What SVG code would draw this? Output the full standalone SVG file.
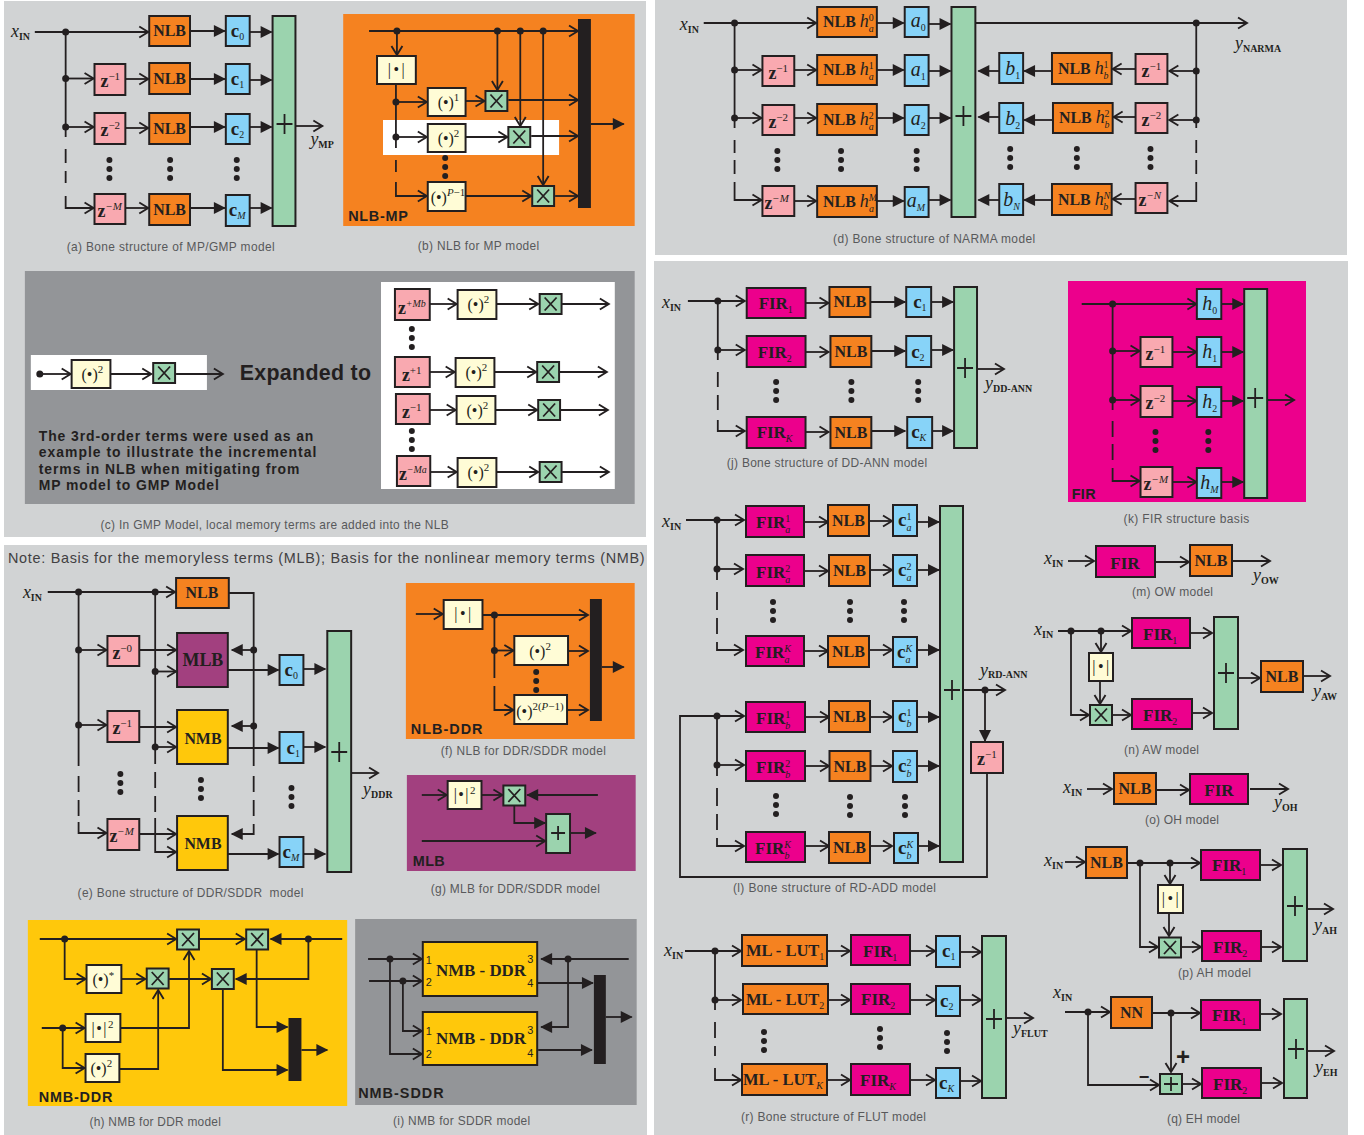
<svg xmlns="http://www.w3.org/2000/svg" width="1364" height="1135" viewBox="0 0 1364 1135">
<style>
text{font-family:"Liberation Serif",serif;fill:#231f20}
.bx{stroke:#231f20;stroke-width:2}
.or{fill:#f58220}.pk{fill:#f9a9b0}.cy{fill:#87d3f8}.gr{fill:#9bd3ae}.cr{fill:#fffcd6}.mg{fill:#ec008c}.pu{fill:#a2407f}.ye{fill:#ffc80b}
.k{fill:#231f20}
.l{fill:none;stroke:#231f20;stroke-width:1.8}
.o{marker-end:url(#o)}.f{marker-end:url(#f)}
.j circle{fill:#231f20;stroke:none;r:3.5px}
.v{font-style:italic;font-size:18px}
.s{font-style:normal;font-weight:bold;font-size:10px}
.n{font-weight:bold;font-size:16px;text-anchor:middle}
.m{font-weight:bold;font-size:16px}
.z{font-weight:bold;font-size:18px}
.c{font-weight:bold;font-size:19px}
.a{font-style:italic;font-size:20px}
.e{font-size:16px}
.ab{font-size:16px;letter-spacing:2.5px;text-anchor:middle}
.ag{font-size:16px;letter-spacing:1.5px}
.h{font-style:italic;font-size:18px;font-weight:normal}
.u{font-size:11px;font-weight:normal;font-style:normal;letter-spacing:0}
.ui{font-size:11px;font-weight:normal;font-style:italic}
.uj{font-size:10px;font-weight:normal;font-style:italic}
.d{font-size:10px;font-weight:normal;font-style:normal}
.di{font-size:10px;font-weight:normal;font-style:italic}
.i{font-style:italic}
.F{font-weight:bold;font-size:17px}
.L{font-weight:bold;font-size:16.5px}
.N{font-size:17px}
.W{font-size:18px}
.cap{font-family:"Liberation Sans",sans-serif;font-size:12px;fill:#58595b}
.lab{font-family:"Liberation Sans",sans-serif;font-size:14.5px;font-weight:bold}
.par{font-family:"Liberation Sans",sans-serif;font-size:14px;font-weight:bold}
.num{font-family:"Liberation Sans",sans-serif;font-size:11px}
.exp{font-family:"Liberation Sans",sans-serif;font-size:21.5px;font-weight:bold}
.nt{font-family:"Liberation Sans",sans-serif;font-size:14.5px;fill:#414042}
.pm{font-family:"Liberation Sans",sans-serif;font-weight:bold;text-anchor:middle}
.pp{font-size:24px}.mm{font-size:18px}
</style>
<defs>
<marker id="o" markerUnits="userSpaceOnUse" markerWidth="16" markerHeight="16" viewBox="-13 -8 16 16" orient="auto"><path d="M-9-5.5L0 0L-9 5.5" fill="none" stroke="#231f20" stroke-width="1.9"/></marker>
<marker id="f" markerUnits="userSpaceOnUse" markerWidth="16" markerHeight="16" viewBox="-13 -8 16 16" orient="auto"><path d="M-11-6L1 0L-11 6Z" fill="#231f20"/></marker>
<g id="xm"><rect class="bx gr" width="22" height="20"/><path class="l" d="M5 3.5L17 16.5M17 3.5L5 16.5"/></g>
<path id="pl" class="l" d="M-8 0H8M0-10V10"/>
<path id="ps" class="l" d="M-7 0H7M0-7V7"/>
<g id="vd" class="k"><circle r="3"/><circle cy="9" r="3"/><circle cy="18" r="3"/></g>
</defs>

<g id="backgrounds">
<rect width="1364" height="1135" fill="#fff"/>
<rect x="4" y="1" width="642" height="536" fill="#d1d3d4"/>
<rect x="4" y="545" width="643" height="590" fill="#d1d3d4"/>
<rect x="655" y="0" width="692" height="255" fill="#d1d3d4"/>
<rect x="654" y="261" width="694" height="874" fill="#d1d3d4"/>
<g transform="scale(.9948 1)">
<rect x="345" y="14" width="293" height="212" class="or"/>
<rect x="385" y="120" width="177" height="35" fill="#fff"/>
<rect x="25" y="271" width="613" height="233" fill="#939598"/>
<rect x="31" y="355" width="177" height="35" fill="#fff"/>
<rect x="383" y="282" width="235" height="207" fill="#fff"/>
<rect x="408" y="583" width="230" height="156" class="or"/>
<rect x="409" y="775" width="230" height="96" class="pu"/>
<rect x="28" y="920" width="321" height="186" class="ye"/>
<rect x="357" y="919" width="283" height="186" fill="#939598"/>
</g>
<rect x="1068" y="281" width="238" height="221" class="mg"/>
</g>

<g id="connectors" class="l">
<g id="conn-left" transform="scale(.9948 1)">
<g class="o">
<path d="M35 32H149"/><path d="M66 32V137M66 149V163M66 171V183M66 196V208H94"/><path d="M66 78.5H94"/><path d="M66 127H94"/><path d="M126 79H149"/><path d="M126 128H149"/><path d="M126 208H149"/><path d="M297 126H324"/>
<path d="M371 31H581"/><path d="M399 31V55"/><path d="M500 31V90"/><path d="M523 31V126"/><path d="M546 31V185"/><path d="M398 84V148M398 160V172M398 182V196H429"/><path d="M398 102H429"/><path d="M398 137H429"/><path d="M468 101H487"/><path d="M511 100H581"/><path d="M468 137H510"/><path d="M534 136H581"/><path d="M468 196H534"/><path d="M558 196H581"/>
<path d="M40 374H71"/><path d="M111 374H152"/><path d="M177 374H224"/>
<path d="M432 304H459"/><path d="M499 304H541"/><path d="M565 304H612"/>
<path d="M432 372H457"/><path d="M497 372H539"/><path d="M562 372H610"/>
<path d="M432 410H458"/><path d="M498 410H540"/><path d="M563 410H611"/>
<path d="M432 472H459"/><path d="M499 472H541"/><path d="M565 472H612"/>
<path d="M48 592H176"/><path d="M79 592V766M79 776V792M79 800V816M79 822V833H107"/><path d="M156 592V764M156 772V788M156 796V812M156 818V852H177"/><path d="M79 650H107"/><path d="M79 725H107"/><path d="M140 650H177"/><path d="M156 671.5H177"/><path d="M140 727H177"/><path d="M156 747H177"/><path d="M140 834H177"/><path d="M353 773H380"/>
<path d="M418 614H445"/><path d="M485 615H591"/><path d="M497 615V678M497 686V695M497 695V710H516"/><path d="M497 650.5H516"/><path d="M571 651H591"/><path d="M570 710H591"/>
<path d="M424 795H449"/><path d="M484 795H505"/><path d="M424 841H548"/>
<path d="M40 939H177"/><path d="M200 939H246"/><path d="M65 939V979H86"/><path d="M122 979H146"/><path d="M170 979H212"/><path d="M42 1028H85"/><path d="M63 1028V1068H85"/><path d="M121 1028H190V951"/><path d="M120 1069H159V990"/>
<path d="M370 959H424"/><path d="M392 959V1054H424"/><path d="M371 981H424"/><path d="M405 981V1031H424"/>
</g>
<g class="f">
<path d="M191 31H226"/><path d="M191 79H226"/><path d="M191 127H226"/><path d="M191 208H226"/><path d="M251 32H273"/><path d="M251 80H273"/><path d="M251 127H273"/><path d="M251 208H273"/>
<path d="M594 124H627"/>
<path d="M255 650H233"/><path d="M255 726H233"/><path d="M255 824V834H233"/><path d="M229 670H280"/><path d="M305 669H327"/><path d="M229 748H280"/><path d="M305 747H327"/><path d="M229 854H280"/><path d="M305 854H327"/>
<path d="M605 667H627"/>
<path d="M601 795H530"/><path d="M517 806V823H548"/><path d="M573 833H599"/>
<path d="M344 939H272"/><path d="M310 939V979H237"/><path d="M258 950V1027H289"/><path d="M224 989V1070H289"/><path d="M303 1050H329"/>
<path d="M632 959H544"/><path d="M571 959V1027H544"/><path d="M540 983H596"/><path d="M541 1050H595"/><path d="M609 1017H635"/>
</g>
<path d="M230 593H255V766M255 776V792M255 800V816"/>
<g class="j">
<circle cx="66" cy="32"/><circle cx="66" cy="78.5"/><circle cx="66" cy="127"/>
<circle cx="399" cy="31"/><circle cx="500" cy="31"/><circle cx="523" cy="31"/><circle cx="546" cy="31"/><circle cx="398" cy="102"/><circle cx="398" cy="137"/>
<circle cx="40" cy="374"/>
<circle cx="79" cy="592"/><circle cx="156" cy="592"/><circle cx="79" cy="650"/><circle cx="79" cy="725"/><circle cx="156" cy="671.5"/><circle cx="156" cy="747"/><circle cx="255" cy="650"/><circle cx="255" cy="726"/>
<circle cx="497" cy="615"/><circle cx="497" cy="650.5"/>
<circle cx="65" cy="939"/><circle cx="310" cy="939"/><circle cx="63" cy="1028"/>
<circle cx="392" cy="959"/><circle cx="405" cy="981"/><circle cx="571" cy="959"/>
</g>
</g>
<g id="conn-d" transform="matrix(.995 0 0 1 3.25 0)">
<g class="o">
<path d="M704 23H817"/><path d="M735 23V128M735 140V153M735 160V174M735 182V200H762"/><path d="M735 70H762"/><path d="M735 118H762"/><path d="M795 70H817"/><path d="M795 118H817"/><path d="M795 201H817"/><path d="M977 23H1250"/><path d="M1199 23V128M1199 140V153M1199 160V174M1199 182V201H1172"/><path d="M1199 71H1172"/><path d="M1199 120H1172"/><path d="M1138 69H1115"/><path d="M1138 117H1116"/><path d="M1138 199H1115"/>
</g>
<g class="f">
<path d="M878 23H905"/><path d="M878 70H905"/><path d="M878 118H905"/><path d="M878 201H905"/><path d="M930 24H952"/><path d="M930 71H952"/><path d="M930 118H952"/><path d="M930 200H952"/><path d="M1054 71H1026"/><path d="M1055 120H1026"/><path d="M1054 200H1026"/><path d="M1001 71H980"/><path d="M1001 117H980"/><path d="M1001 200H980"/>
</g>
<g class="j"><circle cx="735" cy="23"/><circle cx="735" cy="70"/><circle cx="735" cy="118"/><circle cx="1199" cy="23"/><circle cx="1199" cy="71"/><circle cx="1199" cy="120"/></g>
</g>
<g id="conn-jk" transform="matrix(.997 0 0 1 1.95 0)">
<g class="o">
<path d="M688 301H745"/><path d="M718 301V360M718 372V387M718 395V410M718 420V431H745"/><path d="M718 350H745"/><path d="M806 303H829"/><path d="M806 352H829"/><path d="M806 432H829"/><path d="M978 369H1005"/>
<path d="M1083 304H1198"/><path d="M1114 304V410M1114 421V437M1114 444V460M1114 468V481H1141"/><path d="M1114 351H1141"/><path d="M1114 400H1141"/><path d="M1174 352H1198"/><path d="M1174 401H1198"/><path d="M1174 482H1198"/><path d="M1269 400H1296"/>
</g>
<g class="f">
<path d="M871 302H906"/><path d="M871 351H906"/><path d="M871 431H906"/><path d="M932 302H954"/><path d="M932 350H954"/><path d="M932 431H954"/>
<path d="M1223 304H1245"/><path d="M1223 352H1245"/><path d="M1223 401H1245"/><path d="M1223 482H1245"/>
</g>
<g class="j"><circle cx="718" cy="301"/><circle cx="718" cy="350"/><circle cx="1114" cy="304"/><circle cx="1114" cy="351"/><circle cx="1114" cy="400"/></g>
</g>
<g id="conn-rest">
<g class="o">
<path d="M686 520H744"/><path d="M717 520V580M717 592V610M717 618V634M717 642V650H743"/><path d="M717 569H743"/><path d="M804 522H828"/><path d="M804 571H828"/><path d="M804 651H828"/><path d="M869 521H892"/><path d="M869 570H892"/><path d="M869 650H892"/>
<path d="M987 773V877H680V716H744"/><path d="M717 716V776M717 788V806M717 814V830M717 838V846H744"/><path d="M717 765H744"/><path d="M805 717H829"/><path d="M805 766H829"/><path d="M805 846H829"/><path d="M870 717H892"/><path d="M870 766H892"/><path d="M870 846H892"/><path d="M963 690H1005"/>
<path d="M1068 561H1094"/><path d="M1156 562H1189"/><path d="M1232 561H1270"/>
<path d="M1058 631H1131"/><path d="M1071 631V715H1089"/><path d="M1101 631V652"/><path d="M1100 681V704"/><path d="M1112 715H1131"/><path d="M1190 633H1212"/><path d="M1192 713H1212"/><path d="M1238 678H1260"/><path d="M1303 676H1330"/>
<path d="M1087 789H1112"/><path d="M1156 790H1189"/><path d="M1250 789H1288"/>
<path d="M1065 862H1085"/><path d="M1127 863H1200"/><path d="M1140 863V947H1158"/><path d="M1170 863V884"/><path d="M1169 913V936"/><path d="M1181 947H1201"/><path d="M1260 865H1281"/><path d="M1261 947H1281"/><path d="M1307 909H1333"/>
<path d="M1065 1012H1110"/><path d="M1152 1013H1200"/><path d="M1171 1013V1072"/><path d="M1088 1012V1085H1159"/><path d="M1182 1084H1201"/><path d="M1260 1014H1281"/><path d="M1261 1083H1282"/><path d="M1307 1051H1334"/>
<path d="M685 951H741"/><path d="M715 951V1010M715 1022V1038M715 1046V1056M715 1068V1080H741"/><path d="M715 1000H741"/>
<path d="M827 951H850"/><path d="M827 1000H850"/><path d="M827 1080H850"/><path d="M910 951H935"/><path d="M910 1000H935"/><path d="M910 1080H935"/><path d="M960 952H981"/><path d="M960 1000H981"/><path d="M960 1081H981"/><path d="M1006 1018H1033"/>
</g>
<g class="f">
<path d="M917 522H939"/><path d="M917 570H939"/><path d="M917 650H939"/><path d="M918 717H939"/><path d="M918 766H939"/><path d="M918 846H939"/><path d="M985 690V741"/>
</g>
<g class="j">
<circle cx="717" cy="520"/><circle cx="717" cy="569"/><circle cx="717" cy="716"/><circle cx="717" cy="765"/><circle cx="985" cy="690"/>
<circle cx="1071" cy="631"/><circle cx="1101" cy="631"/>
<circle cx="1140" cy="863"/><circle cx="1170" cy="863"/><circle cx="1088" cy="1012"/><circle cx="1171" cy="1013"/>
<circle cx="715" cy="951"/><circle cx="715" cy="1000"/>
</g>
</g>
</g>

<g id="left-nodes" transform="scale(.9948 1)">
<g id="left-ellipses">
<use href="#vd" x="110" y="160"/><use href="#vd" x="171" y="160"/><use href="#vd" x="238" y="160"/>
<use href="#vd" x="447.5" y="158"/>
<use href="#vd" x="414" y="329"/><use href="#vd" x="414" y="431"/>
<use href="#vd" x="121" y="774"/><use href="#vd" x="202" y="780"/><use href="#vd" x="293" y="788"/>
<use href="#vd" x="539" y="672"/>
</g>
<!-- panel a -->
<g id="a-in"><text x="11" y="37" class="v">x<tspan class="s" dy="3">IN</tspan></text></g>
<g id="a-nlb0"><rect class="bx or" x="150" y="16" width="41" height="30"/><text x="170.5" y="36.5" class="n">NLB</text></g>
<g id="a-nlb1"><rect class="bx or" x="150" y="63" width="41" height="31"/><text x="170.5" y="84" class="n">NLB</text></g>
<g id="a-nlb2"><rect class="bx or" x="150" y="113" width="41" height="31"/><text x="170.5" y="134" class="n">NLB</text></g>
<g id="a-nlbm"><rect class="bx or" x="150" y="194" width="41" height="31"/><text x="170.5" y="215" class="n">NLB</text></g>
<g id="a-z1"><rect class="bx pk" x="95" y="64" width="31" height="31"/><text x="101" y="87" class="z">z<tspan class="u" dy="-7">−1</tspan></text></g>
<g id="a-z2"><rect class="bx pk" x="95" y="113" width="31" height="31"/><text x="101" y="136" class="z">z<tspan class="u" dy="-7">−2</tspan></text></g>
<g id="a-zm"><rect class="bx pk" x="95" y="194" width="31" height="30"/><text x="98" y="217" class="z">z<tspan class="ui" dy="-7">−M</tspan></text></g>
<g id="a-c0"><rect class="bx cy" x="227" y="16" width="24" height="30"/><text x="232" y="37" class="c">c<tspan class="d" dy="3">0</tspan></text></g>
<g id="a-c1"><rect class="bx cy" x="227" y="64" width="24" height="30"/><text x="232" y="85" class="c">c<tspan class="d" dy="3">1</tspan></text></g>
<g id="a-c2"><rect class="bx cy" x="227" y="114" width="24" height="30"/><text x="232" y="135" class="c">c<tspan class="d" dy="3">2</tspan></text></g>
<g id="a-cm"><rect class="bx cy" x="227" y="195" width="24" height="31"/><text x="230" y="216" class="c">c<tspan class="di" dy="3">M</tspan></text></g>
<g id="a-sum"><rect class="bx gr" x="274" y="16" width="23" height="210"/><use href="#pl" x="286" y="124"/></g>
<g id="a-out"><text x="312" y="145" class="v">y<tspan class="s" dy="3">MP</tspan></text></g>
<g id="a-cap"><text x="67" y="251" class="cap" textLength="209">(a) Bone structure of MP/GMP model</text></g>

<!-- panel b -->
<g id="b-abs"><rect class="bx cr" x="379" y="56" width="39" height="28"/><text x="399.5" y="75" class="ab">|•|</text></g>
<g id="b-p1"><rect class="bx cr" x="430" y="88" width="38" height="28"/><text x="440" y="108" class="e">(•)<tspan class="u" dy="-7">1</tspan></text></g>
<g id="b-p2"><rect class="bx cr" x="430" y="124" width="38" height="28"/><text x="440" y="144" class="e">(•)<tspan class="u" dy="-7">2</tspan></text></g>
<g id="b-pp"><rect class="bx cr" x="430" y="182" width="38" height="29"/><text x="433" y="203" class="e">(•)<tspan class="ui" dy="-7">P</tspan><tspan class="u">−1</tspan></text></g>
<g id="b-x1"><use href="#xm" x="488" y="91"/></g>
<g id="b-x2"><use href="#xm" x="511" y="127"/></g>
<g id="b-x3"><use href="#xm" x="535" y="186"/></g>
<g id="b-bar"><rect class="k" x="581" y="19" width="13" height="189"/></g>
<g id="b-lab"><text x="350" y="221" class="lab" textLength="60">NLB-MP</text></g>
<g id="b-cap"><text x="420" y="250" class="cap" textLength="122">(b) NLB for MP model</text></g>

<!-- panel c -->
<g id="c-p"><rect class="bx cr" x="72" y="360" width="39" height="28"/><text x="82" y="380" class="e">(•)<tspan class="u" dy="-7">2</tspan></text></g>
<g id="c-x"><use href="#xm" x="154" y="363"/></g>
<g id="c-exp"><text x="241" y="380" class="exp" textLength="132">Expanded to</text></g>
<g id="c-note"><text x="39" y="441" class="par" textLength="276">The 3rd-order terms were used as an</text><text x="39" y="457" class="par" textLength="279">example to illustrate the incremental</text><text x="39" y="474" class="par" textLength="262">terms in NLB when mitigating from</text><text x="39" y="490" class="par" textLength="181">MP model to GMP Model</text></g>
<g id="c-z1"><rect class="bx pk" x="397" y="289" width="35" height="31"/><text x="400" y="314" class="z">z<tspan class="uj" dy="-7">+Mb</tspan></text></g>
<g id="c-p1"><rect class="bx cr" x="460" y="290" width="39" height="29"/><text x="470" y="310" class="e">(•)<tspan class="u" dy="-7">2</tspan></text></g>
<g id="c-x1"><use href="#xm" x="542.5" y="294"/></g>
<g id="c-z2"><rect class="bx pk" x="397" y="357" width="35" height="30"/><text x="404" y="381" class="z">z<tspan class="u" dy="-7">+1</tspan></text></g>
<g id="c-p2"><rect class="bx cr" x="458" y="358" width="39" height="29"/><text x="468" y="378" class="e">(•)<tspan class="u" dy="-7">2</tspan></text></g>
<g id="c-x2"><use href="#xm" x="540" y="362"/></g>
<g id="c-z3"><rect class="bx pk" x="398" y="394" width="34" height="30"/><text x="404" y="418" class="z">z<tspan class="u" dy="-7">−1</tspan></text></g>
<g id="c-p3"><rect class="bx cr" x="459" y="396" width="39" height="28"/><text x="469" y="416" class="e">(•)<tspan class="u" dy="-7">2</tspan></text></g>
<g id="c-x3"><use href="#xm" x="541" y="400"/></g>
<g id="c-z4"><rect class="bx pk" x="399" y="456" width="33.5" height="30"/><text x="401" y="480" class="z">z<tspan class="uj" dy="-7">−Ma</tspan></text></g>
<g id="c-p4"><rect class="bx cr" x="460" y="458" width="39" height="29"/><text x="470" y="478" class="e">(•)<tspan class="u" dy="-7">2</tspan></text></g>
<g id="c-x4"><use href="#xm" x="542.5" y="462"/></g>
<g id="c-cap"><text x="101" y="529" class="cap" textLength="350">(c) In GMP Model, local memory terms are added into the NLB</text></g>

<!-- panel e -->
<g id="e-note"><text x="8" y="563" class="nt" textLength="640">Note: Basis for the memoryless terms (MLB); Basis for the nonlinear memory terms (NMB)</text></g>
<g id="e-in"><text x="23" y="598" class="v">x<tspan class="s" dy="3">IN</tspan></text></g>
<g id="e-nlb"><rect class="bx or" x="177" y="578" width="53" height="30"/><text x="203" y="598.5" class="n">NLB</text></g>
<g id="e-mlb"><rect class="bx pu" x="178" y="633" width="51" height="54"/><text x="204" y="666" class="n W">MLB</text></g>
<g id="e-nmb1"><rect class="bx ye" x="178" y="710" width="51" height="54"/><text x="204" y="744" class="n">NMB</text></g>
<g id="e-nmb2"><rect class="bx ye" x="178" y="816" width="51" height="54"/><text x="204" y="849" class="n">NMB</text></g>
<g id="e-z0"><rect class="bx pk" x="108" y="636" width="32" height="30"/><text x="113" y="659" class="z">z<tspan class="u" dy="-7">−0</tspan></text></g>
<g id="e-z1"><rect class="bx pk" x="108" y="711" width="32" height="31"/><text x="113" y="734" class="z">z<tspan class="u" dy="-7">−1</tspan></text></g>
<g id="e-zm"><rect class="bx pk" x="108" y="819" width="32" height="31"/><text x="110" y="842" class="z">z<tspan class="ui" dy="-7">−M</tspan></text></g>
<g id="e-c0"><rect class="bx cy" x="281" y="655" width="24" height="30"/><text x="286" y="676" class="c">c<tspan class="d" dy="3">0</tspan></text></g>
<g id="e-c1"><rect class="bx cy" x="281" y="732" width="24" height="31"/><text x="288" y="754" class="c">c<tspan class="d" dy="3">1</tspan></text></g>
<g id="e-cm"><rect class="bx cy" x="281" y="837" width="24" height="30"/><text x="284" y="858" class="c">c<tspan class="di" dy="3">M</tspan></text></g>
<g id="e-sum"><rect class="bx gr" x="329" y="631" width="24" height="241"/><use href="#pl" x="341" y="752"/></g>
<g id="e-out"><text x="365" y="795" class="v">y<tspan class="s" dy="3">DDR</tspan></text></g>
<g id="e-cap"><text x="78" y="897" class="cap" textLength="227" xml:space="preserve">(e) Bone structure of DDR/SDDR  model</text></g>

<!-- panel f -->
<g id="f-abs"><rect class="bx cr" x="446" y="600" width="39" height="29"/><text x="466.5" y="619" class="ab">|•|</text></g>
<g id="f-p2"><rect class="bx cr" x="517" y="636" width="54" height="29"/><text x="532" y="657" class="e">(•)<tspan class="u" dy="-7">2</tspan></text></g>
<g id="f-pp"><rect class="bx cr" x="517" y="695" width="53" height="29"/><text x="519" y="717" class="e">(•)<tspan class="u" dy="-7">2(<tspan class="i">P</tspan>−1)</tspan></text></g>
<g id="f-bar"><rect class="k" x="593" y="599" width="12" height="122"/></g>
<g id="f-lab"><text x="413" y="734" class="lab" textLength="72">NLB-DDR</text></g>
<g id="f-cap"><text x="443" y="755" class="cap" textLength="166">(f) NLB for DDR/SDDR model</text></g>

<!-- panel g -->
<g id="g-abs"><rect class="bx cr" x="450" y="781" width="34" height="28"/><text x="456" y="800" class="ag">|•|<tspan class="u" dy="-6">2</tspan></text></g>
<g id="g-x"><use href="#xm" x="506" y="785.5"/></g>
<g id="g-sum"><rect class="bx gr" x="549" y="814" width="24" height="39"/><use href="#ps" x="561" y="833"/></g>
<g id="g-lab"><text x="415" y="866" class="lab" textLength="32">MLB</text></g>
<g id="g-cap"><text x="433" y="893" class="cap" textLength="170">(g) MLB for DDR/SDDR model</text></g>

<!-- panel h -->
<g id="h-x1"><use href="#xm" x="178" y="929.5"/></g>
<g id="h-x2"><use href="#xm" x="247.5" y="929.5"/></g>
<g id="h-x3"><use href="#xm" x="147.5" y="968.5"/></g>
<g id="h-x4"><use href="#xm" x="213" y="969"/></g>
<g id="h-conj"><rect class="bx cr" x="87" y="965" width="35" height="28"/><text x="93" y="985" class="e">(•)<tspan class="u" dy="-6">*</tspan></text></g>
<g id="h-abs"><rect class="bx cr" x="86" y="1014" width="35" height="28"/><text x="92" y="1034" class="ag">|•|<tspan class="u" dy="-6">2</tspan></text></g>
<g id="h-p2"><rect class="bx cr" x="86" y="1054" width="34" height="28"/><text x="91" y="1074" class="e">(•)<tspan class="u" dy="-7">2</tspan></text></g>
<g id="h-bar"><rect class="k" x="290" y="1018" width="13" height="63"/></g>
<g id="h-lab"><text x="39" y="1102" class="lab" textLength="74">NMB-DDR</text></g>
<g id="h-cap"><text x="90" y="1126" class="cap" textLength="132">(h) NMB for DDR model</text></g>

<!-- panel i -->
<g id="i-b1"><rect class="bx ye" x="425" y="942" width="115" height="54"/><text x="483.5" y="976" class="n N">NMB - DDR</text><text x="428" y="964" class="num">1</text><text x="428" y="986" class="num">2</text><text x="530" y="963" class="num">3</text><text x="530" y="987" class="num">4</text></g>
<g id="i-b2"><rect class="bx ye" x="425" y="1012" width="115" height="53"/><text x="483.5" y="1044" class="n N">NMB - DDR</text><text x="428" y="1035" class="num">1</text><text x="428" y="1058" class="num">2</text><text x="530" y="1034" class="num">3</text><text x="530" y="1057" class="num">4</text></g>
<g id="i-bar"><rect class="k" x="597" y="975" width="12" height="89"/></g>
<g id="i-lab"><text x="360" y="1098" class="lab" textLength="86">NMB-SDDR</text></g>
<g id="i-cap"><text x="395" y="1125" class="cap" textLength="138">(i) NMB for SDDR model</text></g>
</g>

<!-- panel d -->
<g id="d-nodes" transform="matrix(.995 0 0 1 3.25 0)">
<use href="#vd" x="778" y="151"/><use href="#vd" x="842" y="151"/><use href="#vd" x="918" y="151"/><use href="#vd" x="1012" y="149"/><use href="#vd" x="1079" y="149"/><use href="#vd" x="1153" y="149"/>
<g id="d-in"><text x="680" y="30" class="v">x<tspan class="s" dy="3">IN</tspan></text></g>
<g id="d-n0"><rect class="bx or" x="818" y="7" width="60" height="30"/><text x="824" y="27" class="m">NLB<tspan class="h" dx="4">h</tspan><tspan class="d" dy="-6">0</tspan><tspan class="di" dx="-5" dy="11">a</tspan></text></g>
<g id="d-n1"><rect class="bx or" x="818" y="55" width="60" height="30"/><text x="824" y="75" class="m">NLB<tspan class="h" dx="4">h</tspan><tspan class="d" dy="-6">1</tspan><tspan class="di" dx="-5" dy="11">a</tspan></text></g>
<g id="d-n2"><rect class="bx or" x="818" y="104" width="60" height="31"/><text x="824" y="125" class="m">NLB<tspan class="h" dx="4">h</tspan><tspan class="d" dy="-6">2</tspan><tspan class="di" dx="-5" dy="11">a</tspan></text></g>
<g id="d-nm"><rect class="bx or" x="818" y="186" width="60" height="31"/><text x="824" y="207" class="m">NLB<tspan class="h" dx="4">h</tspan><tspan class="di" dy="-6">M</tspan><tspan class="di" dx="-8" dy="11">a</tspan></text></g>
<g id="d-z1"><rect class="bx pk" x="763" y="56" width="32" height="30"/><text x="769" y="79" class="z">z<tspan class="u" dy="-7">−1</tspan></text></g>
<g id="d-z2"><rect class="bx pk" x="763" y="105" width="32" height="30"/><text x="769" y="128" class="z">z<tspan class="u" dy="-7">−2</tspan></text></g>
<g id="d-zm"><rect class="bx pk" x="763" y="186" width="32" height="30"/><text x="765" y="209" class="z">z<tspan class="ui" dy="-7">−M</tspan></text></g>
<g id="d-a0"><rect class="bx cy" x="906" y="7" width="24" height="30"/><text x="912" y="27" class="a">a<tspan class="d" dy="4">0</tspan></text></g>
<g id="d-a1"><rect class="bx cy" x="906" y="55" width="24" height="31"/><text x="912" y="76" class="a">a<tspan class="d" dy="4">1</tspan></text></g>
<g id="d-a2"><rect class="bx cy" x="906" y="105" width="24" height="30"/><text x="912" y="125" class="a">a<tspan class="d" dy="4">2</tspan></text></g>
<g id="d-am"><rect class="bx cy" x="906" y="187" width="24" height="30"/><text x="908" y="207" class="a">a<tspan class="di" dy="4">M</tspan></text></g>
<g id="d-sum"><rect class="bx gr" x="953" y="7" width="24" height="210"/><use href="#pl" x="965" y="116"/></g>
<g id="d-b1"><rect class="bx cy" x="1001" y="53" width="24" height="30"/><text x="1007" y="75" class="a">b<tspan class="d" dy="4">1</tspan></text></g>
<g id="d-b2"><rect class="bx cy" x="1001" y="103" width="24" height="30"/><text x="1007" y="125" class="a">b<tspan class="d" dy="4">2</tspan></text></g>
<g id="d-bn"><rect class="bx cy" x="1001" y="184" width="24" height="31"/><text x="1005" y="206" class="a">b<tspan class="di" dy="4">N</tspan></text></g>
<g id="d-m1"><rect class="bx or" x="1054" y="53" width="60" height="31"/><text x="1060" y="74" class="m">NLB<tspan class="h" dx="4">h</tspan><tspan class="d" dy="-6">1</tspan><tspan class="di" dx="-5" dy="11">b</tspan></text></g>
<g id="d-m2"><rect class="bx or" x="1055" y="103" width="60" height="30"/><text x="1061" y="123" class="m">NLB<tspan class="h" dx="4">h</tspan><tspan class="d" dy="-6">2</tspan><tspan class="di" dx="-5" dy="11">b</tspan></text></g>
<g id="d-mn"><rect class="bx or" x="1054" y="184" width="60" height="31"/><text x="1060" y="205" class="m">NLB<tspan class="h" dx="4">h</tspan><tspan class="di" dy="-6">N</tspan><tspan class="di" dx="-7" dy="11">b</tspan></text></g>
<g id="d-y1"><rect class="bx pk" x="1138" y="54" width="32" height="30"/><text x="1144" y="77" class="z">z<tspan class="u" dy="-7">−1</tspan></text></g>
<g id="d-y2"><rect class="bx pk" x="1138" y="103" width="32" height="30"/><text x="1144" y="126" class="z">z<tspan class="u" dy="-7">−2</tspan></text></g>
<g id="d-yn"><rect class="bx pk" x="1138" y="183" width="32" height="30"/><text x="1141" y="206" class="z">z<tspan class="ui" dy="-7">−N</tspan></text></g>
<g id="d-out"><text x="1238" y="49" class="v">y<tspan class="s" dy="3">NARMA</tspan></text></g>
<g id="d-cap"><text x="834" y="243" class="cap" textLength="203">(d) Bone structure of NARMA model</text></g>
</g>

<g id="jk-nodes" transform="matrix(.997 0 0 1 1.95 0)">
<use href="#vd" x="776.5" y="382"/><use href="#vd" x="852" y="382"/><use href="#vd" x="919" y="382"/>
<use href="#vd" x="1157" y="432"/><use href="#vd" x="1210" y="432"/>
<!-- panel j -->
<g id="j-in"><text x="662" y="308" class="v">x<tspan class="s" dy="3">IN</tspan></text></g>
<g id="j-f1"><rect class="bx mg" x="747" y="288" width="59" height="30"/><text x="759" y="309" class="F">FIR<tspan class="d" dy="4">1</tspan></text></g>
<g id="j-f2"><rect class="bx mg" x="747" y="336" width="59" height="31"/><text x="758" y="358" class="F">FIR<tspan class="d" dy="4">2</tspan></text></g>
<g id="j-fk"><rect class="bx mg" x="747" y="417" width="59" height="31"/><text x="757" y="438" class="F">FIR<tspan class="di" dy="4">K</tspan></text></g>
<g id="j-n1"><rect class="bx or" x="830" y="287" width="41" height="30"/><text x="850.5" y="307.5" class="n">NLB</text></g>
<g id="j-n2"><rect class="bx or" x="831" y="336" width="41" height="31"/><text x="851.5" y="357" class="n">NLB</text></g>
<g id="j-nk"><rect class="bx or" x="831" y="417" width="41" height="31"/><text x="851.5" y="438" class="n">NLB</text></g>
<g id="j-c1"><rect class="bx cy" x="907" y="287" width="25" height="30"/><text x="914" y="308" class="c">c<tspan class="d" dy="3">1</tspan></text></g>
<g id="j-c2"><rect class="bx cy" x="907" y="336" width="25" height="31"/><text x="912" y="358" class="c">c<tspan class="d" dy="3">2</tspan></text></g>
<g id="j-ck"><rect class="bx cy" x="908" y="417" width="25" height="31"/><text x="912" y="438" class="c">c<tspan class="di" dy="3">K</tspan></text></g>
<g id="j-sum"><rect class="bx gr" x="955" y="287" width="23" height="161"/><use href="#pl" x="966" y="368"/></g>
<g id="j-out"><text x="986" y="389" class="v">y<tspan class="s" dy="3">DD-ANN</tspan></text></g>
<g id="j-cap"><text x="727" y="467" class="cap" textLength="201">(j) Bone structure of DD-ANN model</text></g>
<!-- panel k -->
<g id="k-z1"><rect class="bx pk" x="1142" y="337" width="32" height="30"/><text x="1147" y="360" class="z">z<tspan class="u" dy="-7">−1</tspan></text></g>
<g id="k-z2"><rect class="bx pk" x="1142" y="386" width="32" height="31"/><text x="1147" y="409" class="z">z<tspan class="u" dy="-7">−2</tspan></text></g>
<g id="k-zm"><rect class="bx pk" x="1142" y="467" width="32" height="30"/><text x="1145" y="490" class="z">z<tspan class="ui" dy="-7">−M</tspan></text></g>
<g id="k-h0"><rect class="bx cy" x="1198.5" y="289" width="24.5" height="30"/><text x="1204" y="310" class="a">h<tspan class="d" dy="4">0</tspan></text></g>
<g id="k-h1"><rect class="bx cy" x="1198.5" y="337" width="24.5" height="30"/><text x="1204" y="358" class="a">h<tspan class="d" dy="4">1</tspan></text></g>
<g id="k-h2"><rect class="bx cy" x="1198.5" y="387" width="24.5" height="30"/><text x="1204" y="408" class="a">h<tspan class="d" dy="4">2</tspan></text></g>
<g id="k-hm"><rect class="bx cy" x="1198.5" y="468" width="24.5" height="30"/><text x="1202" y="489" class="a">h<tspan class="di" dy="4">M</tspan></text></g>
<g id="k-sum"><rect class="bx gr" x="1246" y="289" width="23" height="209"/><use href="#pl" x="1257" y="398"/></g>
<g id="k-lab"><text x="1073" y="499" class="lab" textLength="24">FIR</text></g>
<g id="k-cap"><text x="1125" y="523" class="cap" textLength="126">(k) FIR structure basis</text></g>
</g>

<g id="right-nodes">
<use href="#vd" x="773" y="602"/><use href="#vd" x="850" y="602"/><use href="#vd" x="904" y="602"/>
<use href="#vd" x="776" y="796"/><use href="#vd" x="850" y="797"/><use href="#vd" x="905" y="797"/>
<use href="#vd" x="764" y="1032"/><use href="#vd" x="880" y="1029"/><use href="#vd" x="947" y="1033"/>
<!-- panel l -->
<g id="l-in"><text x="662" y="527" class="v">x<tspan class="s" dy="3">IN</tspan></text></g>
<g id="l-f1"><rect class="bx mg" x="746" y="506" width="58" height="31"/><text x="756" y="528" class="F">FIR<tspan class="d" dy="-6">1</tspan><tspan class="di" dx="-5" dy="11">a</tspan></text></g>
<g id="l-f2"><rect class="bx mg" x="746" y="555" width="58" height="31"/><text x="756" y="578" class="F">FIR<tspan class="d" dy="-6">2</tspan><tspan class="di" dx="-5" dy="11">a</tspan></text></g>
<g id="l-fk"><rect class="bx mg" x="746" y="636" width="58" height="30"/><text x="755" y="658" class="F">FIR<tspan class="di" dy="-6">K</tspan><tspan class="di" dx="-6.5" dy="11">a</tspan></text></g>
<g id="l-n1"><rect class="bx or" x="828" y="505" width="41" height="31"/><text x="848.5" y="526" class="n">NLB</text></g>
<g id="l-n2"><rect class="bx or" x="829" y="555" width="41" height="31"/><text x="849.5" y="576" class="n">NLB</text></g>
<g id="l-nk"><rect class="bx or" x="828" y="636" width="41" height="31"/><text x="848.5" y="657" class="n">NLB</text></g>
<g id="l-c1"><rect class="bx cy" x="893" y="505" width="24" height="31"/><text x="898" y="526" class="c">c<tspan class="d" dy="-6">1</tspan><tspan class="di" dx="-5" dy="11">a</tspan></text></g>
<g id="l-c2"><rect class="bx cy" x="893" y="555" width="24" height="31"/><text x="898" y="576" class="c">c<tspan class="d" dy="-6">2</tspan><tspan class="di" dx="-5" dy="11">a</tspan></text></g>
<g id="l-ck"><rect class="bx cy" x="893" y="637" width="24" height="30"/><text x="897" y="658" class="c">c<tspan class="di" dy="-6">K</tspan><tspan class="di" dx="-6.5" dy="11">a</tspan></text></g>
<g id="l-b1"><rect class="bx mg" x="746" y="702" width="59" height="30"/><text x="756" y="724" class="F">FIR<tspan class="d" dy="-6">1</tspan><tspan class="di" dx="-5" dy="11">b</tspan></text></g>
<g id="l-b2"><rect class="bx mg" x="746" y="751" width="59" height="30"/><text x="756" y="773" class="F">FIR<tspan class="d" dy="-6">2</tspan><tspan class="di" dx="-5" dy="11">b</tspan></text></g>
<g id="l-bk"><rect class="bx mg" x="746" y="832" width="59" height="30"/><text x="755" y="854" class="F">FIR<tspan class="di" dy="-6">K</tspan><tspan class="di" dx="-6.5" dy="11">b</tspan></text></g>
<g id="l-m1"><rect class="bx or" x="829" y="701" width="41" height="31"/><text x="849.5" y="722" class="n">NLB</text></g>
<g id="l-m2"><rect class="bx or" x="829.5" y="751" width="41" height="30"/><text x="850" y="771.5" class="n">NLB</text></g>
<g id="l-mk"><rect class="bx or" x="829" y="832" width="41" height="31"/><text x="849.5" y="853" class="n">NLB</text></g>
<g id="l-d1"><rect class="bx cy" x="893" y="701" width="24" height="31"/><text x="898" y="722" class="c">c<tspan class="d" dy="-6">1</tspan><tspan class="di" dx="-5" dy="11">b</tspan></text></g>
<g id="l-d2"><rect class="bx cy" x="893" y="751" width="24" height="31"/><text x="898" y="772" class="c">c<tspan class="d" dy="-6">2</tspan><tspan class="di" dx="-5" dy="11">b</tspan></text></g>
<g id="l-dk"><rect class="bx cy" x="894" y="833" width="24" height="30"/><text x="898" y="854" class="c">c<tspan class="di" dy="-6">K</tspan><tspan class="di" dx="-6.5" dy="11">b</tspan></text></g>
<g id="l-sum"><rect class="bx gr" x="940" y="506" width="23" height="356"/><use href="#pl" x="952" y="690"/></g>
<g id="l-z"><rect class="bx pk" x="971" y="742" width="32" height="31"/><text x="977" y="765" class="z">z<tspan class="u" dy="-7">−1</tspan></text></g>
<g id="l-out"><text x="980" y="676" class="v">y<tspan class="s" dy="2">RD-ANN</tspan></text></g>
<g id="l-cap"><text x="733" y="892" class="cap" textLength="203">(l) Bone structure of RD-ADD model</text></g>

<!-- panel m -->
<g id="m-in"><text x="1044" y="564" class="v">x<tspan class="s" dy="3">IN</tspan></text></g>
<g id="m-fir"><rect class="bx mg" x="1096" y="546" width="59" height="31"/><text x="1125" y="569" class="n N">FIR</text></g>
<g id="m-nlb"><rect class="bx or" x="1190" y="545" width="42" height="31"/><text x="1211" y="566" class="n">NLB</text></g>
<g id="m-out"><text x="1253" y="581" class="v">y<tspan class="s" dy="3">OW</tspan></text></g>
<g id="m-cap"><text x="1132" y="596" class="cap" textLength="81">(m) OW model</text></g>

<!-- panel n -->
<g id="n-in"><text x="1034" y="635" class="v">x<tspan class="s" dy="3">IN</tspan></text></g>
<g id="n-f1"><rect class="bx mg" x="1132" y="618" width="58" height="30"/><text x="1143" y="640" class="F">FIR<tspan class="d" dy="4">1</tspan></text></g>
<g id="n-abs"><rect class="bx cr" x="1089" y="653" width="24" height="28"/><text x="1102" y="672" class="ab">|•|</text></g>
<g id="n-x"><use href="#xm" x="1090" y="705"/></g>
<g id="n-f2"><rect class="bx mg" x="1132" y="699" width="60" height="30"/><text x="1143" y="721" class="F">FIR<tspan class="d" dy="4">2</tspan></text></g>
<g id="n-sum"><rect class="bx gr" x="1214" y="617" width="24" height="112"/><use href="#pl" x="1226" y="673"/></g>
<g id="n-nlb"><rect class="bx or" x="1261" y="661" width="42" height="31"/><text x="1282" y="682" class="n">NLB</text></g>
<g id="n-out"><text x="1313" y="697" class="v">y<tspan class="s" dy="3">AW</tspan></text></g>
<g id="n-cap"><text x="1124" y="754" class="cap" textLength="75">(n) AW model</text></g>

<!-- panel o -->
<g id="o-in"><text x="1063" y="793" class="v">x<tspan class="s" dy="3">IN</tspan></text></g>
<g id="o-nlb"><rect class="bx or" x="1114" y="773" width="42" height="31"/><text x="1135" y="794" class="n">NLB</text></g>
<g id="o-fir"><rect class="bx mg" x="1190" y="774" width="58" height="30"/><text x="1219" y="796" class="n N">FIR</text></g>
<g id="o-out"><text x="1274" y="808" class="v">y<tspan class="s" dy="3">OH</tspan></text></g>
<g id="o-cap"><text x="1145" y="824" class="cap" textLength="74">(o) OH model</text></g>

<!-- panel p -->
<g id="p-in"><text x="1044" y="866" class="v">x<tspan class="s" dy="3">IN</tspan></text></g>
<g id="p-nlb"><rect class="bx or" x="1086" y="847" width="41" height="31"/><text x="1106.5" y="868" class="n">NLB</text></g>
<g id="p-f1"><rect class="bx mg" x="1201" y="850" width="59" height="30"/><text x="1212" y="871" class="F">FIR<tspan class="d" dy="4">1</tspan></text></g>
<g id="p-abs"><rect class="bx cr" x="1158" y="885" width="25" height="28"/><text x="1171.5" y="904" class="ab">|•|</text></g>
<g id="p-x"><use href="#xm" x="1159" y="937.5"/></g>
<g id="p-f2"><rect class="bx mg" x="1202" y="931" width="59" height="30"/><text x="1213" y="953" class="F">FIR<tspan class="d" dy="4">2</tspan></text></g>
<g id="p-sum"><rect class="bx gr" x="1283" y="849" width="24" height="112"/><use href="#pl" x="1295" y="906"/></g>
<g id="p-out"><text x="1314" y="931" class="v">y<tspan class="s" dy="3">AH</tspan></text></g>
<g id="p-cap"><text x="1178" y="977" class="cap" textLength="73">(p) AH model</text></g>

<!-- panel q -->
<g id="q-in"><text x="1053" y="998" class="v">x<tspan class="s" dy="3">IN</tspan></text></g>
<g id="q-nn"><rect class="bx or" x="1111" y="997" width="41" height="31"/><text x="1131.5" y="1018" class="n">NN</text></g>
<g id="q-f1"><rect class="bx mg" x="1201" y="1000" width="59" height="30"/><text x="1212" y="1021" class="F">FIR<tspan class="d" dy="4">1</tspan></text></g>
<g id="q-plus"><text x="1183" y="1065" class="pm pp">+</text></g>
<g id="q-minus"><text x="1144" y="1083" class="pm mm">−</text></g>
<g id="q-add"><rect class="bx gr" x="1160" y="1074" width="22" height="20"/><use href="#ps" x="1171" y="1084"/></g>
<g id="q-f2"><rect class="bx mg" x="1202" y="1068" width="59" height="30"/><text x="1213" y="1090" class="F">FIR<tspan class="d" dy="4">2</tspan></text></g>
<g id="q-sum"><rect class="bx gr" x="1284" y="999" width="23" height="99"/><use href="#pl" x="1296" y="1049"/></g>
<g id="q-out"><text x="1315" y="1073" class="v">y<tspan class="s" dy="3">EH</tspan></text></g>
<g id="q-cap"><text x="1167" y="1123" class="cap" textLength="73">(q) EH model</text></g>

<!-- panel r -->
<g id="r-in"><text x="664" y="956" class="v">x<tspan class="s" dy="3">IN</tspan></text></g>
<g id="r-l1"><rect class="bx or" x="742" y="935" width="85" height="31"/><text x="746" y="956" class="L">ML - LUT<tspan class="d" dy="4">1</tspan></text></g>
<g id="r-l2"><rect class="bx or" x="743" y="984" width="85" height="30"/><text x="746" y="1005" class="L">ML - LUT<tspan class="d" dy="4">2</tspan></text></g>
<g id="r-lk"><rect class="bx or" x="742" y="1064" width="85" height="31"/><text x="743" y="1085" class="L">ML - LUT<tspan class="di" dy="4">K</tspan></text></g>
<g id="r-f1"><rect class="bx mg" x="851" y="935" width="59" height="30"/><text x="863" y="957" class="F">FIR<tspan class="d" dy="4">1</tspan></text></g>
<g id="r-f2"><rect class="bx mg" x="851" y="984" width="59" height="30"/><text x="861" y="1005" class="F">FIR<tspan class="d" dy="4">2</tspan></text></g>
<g id="r-fk"><rect class="bx mg" x="851" y="1064" width="59" height="31"/><text x="860" y="1086" class="F">FIR<tspan class="di" dy="4">K</tspan></text></g>
<g id="r-c1"><rect class="bx cy" x="936" y="936" width="24" height="31"/><text x="942" y="957" class="c">c<tspan class="d" dy="3">1</tspan></text></g>
<g id="r-c2"><rect class="bx cy" x="936" y="986" width="24" height="30"/><text x="940" y="1007" class="c">c<tspan class="d" dy="3">2</tspan></text></g>
<g id="r-ck"><rect class="bx cy" x="936" y="1068" width="24" height="30"/><text x="939" y="1089" class="c">c<tspan class="di" dy="3">K</tspan></text></g>
<g id="r-sum"><rect class="bx gr" x="982" y="936" width="24" height="162"/><use href="#pl" x="994" y="1019"/></g>
<g id="r-out"><text x="1013" y="1034" class="v">y<tspan class="s" dy="3">FLUT</tspan></text></g>
<g id="r-cap"><text x="741" y="1121" class="cap" textLength="185">(r) Bone structure of FLUT model</text></g>
</g>
</svg>
